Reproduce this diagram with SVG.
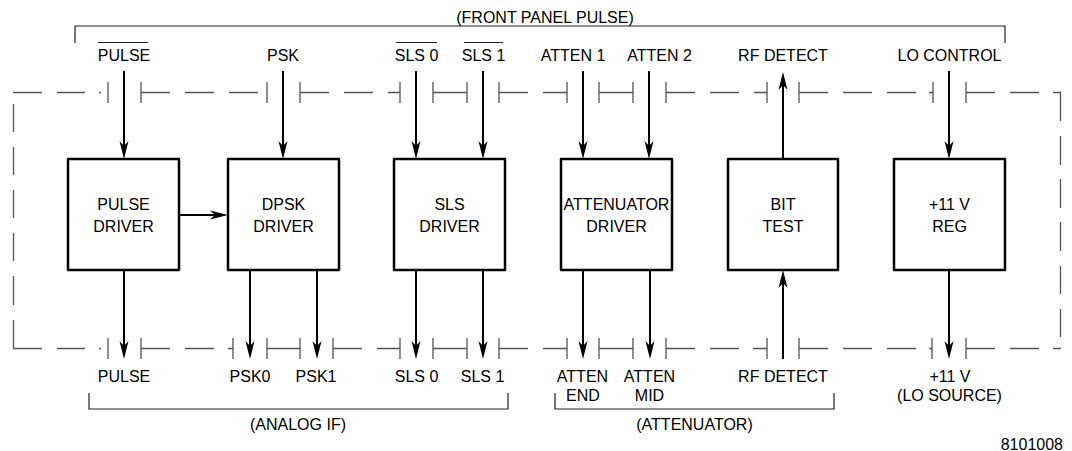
<svg xmlns="http://www.w3.org/2000/svg" width="1072" height="451" viewBox="0 0 1072 451">
<style>
text{font-family:"Liberation Sans",Arial,sans-serif;font-size:16px;fill:#000;text-anchor:middle}
.box{fill:#fff;stroke:#000;stroke-width:2.5;stroke-linejoin:round}
.sig{stroke:#000;stroke-width:2;fill:none}
.fr{stroke:#555;stroke-width:1.3;fill:none}
.tk{stroke:#555;stroke-width:1.3;fill:none}
.br{stroke:#222;stroke-width:1.2;fill:none}
</style>
<defs>
<marker id="ah" viewBox="-20 -6 22 12" refX="-6" refY="0" markerWidth="22" markerHeight="12" markerUnits="userSpaceOnUse" orient="auto">
<path d="M0,0 L-18,-4.5 L-13,0 L-18,4.5 Z" fill="#000"/>
</marker>
</defs>

<g id="frame">
<path class="fr" d="M13,92.5H42 M57,92.5H85 M99,92.5H101 M141,92.5H170 M185,92.5H214 M229,92.5H258 M300,92.5H329 M344,92.5H373 M388,92.5H400 M433,92.5H467 M499,92.5H528 M543,92.5H567 M599,92.5H633 M666,92.5H695 M710,92.5H739 M754,92.5H767 M799,92.5H828 M843,92.5H872 M887,92.5H916 M929,92.5H933 M966,92.5H995 M1010,92.5H1039 M1053,92.5H1060.5V121"/>
<path class="fr" d="M1060.5,136V165 M1060.5,179V208 M1060.5,222V251 M1060.5,266V294 M1060.5,309V337"/>
<path class="fr" d="M13.5,104V132 M13.5,147V175 M13.5,190V218 M13.5,233V261 M13.5,276V305 M13.5,320V348.5H42"/>
<path class="fr" d="M57,348.5H85 M99,348.5H101 M141,348.5H170 M185,348.5H214 M228,348.5H233 M267,348.5H300 M333,348.5H362 M377,348.5H400 M433,348.5H467 M499,348.5H528 M543,348.5H567 M599,348.5H633 M666,348.5H695 M710,348.5H739 M753,348.5H767 M799,348.5H828 M843,348.5H872 M887,348.5H916 M929,348.5H932 M966,348.5H995 M1010,348.5H1039 M1053,348.5H1061"/>
<path class="tk" d="M108,82V103 M141,82V103 M267,82V103 M300,82V103 M400,82V103 M433,82V103 M467,82V103 M499,82V103 M567,82V103 M599,82V103 M633,82V103 M666,82V103 M767,82V103 M799,82V103 M933,82V103 M966,82V103"/>
<path class="tk" d="M108,338V359 M141,338V359 M233,338V359 M267,338V359 M300,338V359 M333,338V359 M400,338V359 M433,338V359 M467,338V359 M499,338V359 M567,338V359 M599,338V359 M633,338V359 M666,338V359 M767,338V359 M799,338V359 M932,338V359 M966,338V359"/>
</g>

<g id="brackets">
<path class="br" d="M75,43V26H1005V43"/>
<path class="br" d="M89,393V409H508V393"/>
<path class="br" d="M555,393V409H834V393"/>
</g>

<g id="connectors">
<line class="sig" x1="124" y1="71" x2="124" y2="153" marker-end="url(#ah)"/>
<line class="sig" x1="283" y1="71" x2="283" y2="153" marker-end="url(#ah)"/>
<line class="sig" x1="416" y1="71" x2="416" y2="153" marker-end="url(#ah)"/>
<line class="sig" x1="483" y1="71" x2="483" y2="153" marker-end="url(#ah)"/>
<line class="sig" x1="583" y1="71" x2="583" y2="153" marker-end="url(#ah)"/>
<line class="sig" x1="649" y1="71" x2="649" y2="153" marker-end="url(#ah)"/>
<line class="sig" x1="783" y1="159" x2="783" y2="78" marker-end="url(#ah)"/>
<line class="sig" x1="949" y1="71" x2="949" y2="153" marker-end="url(#ah)"/>
<line class="sig" x1="179" y1="215" x2="222" y2="215" marker-end="url(#ah)"/>
<line class="sig" x1="124" y1="270" x2="124" y2="353" marker-end="url(#ah)"/>
<line class="sig" x1="250" y1="270" x2="250" y2="353" marker-end="url(#ah)"/>
<line class="sig" x1="317" y1="270" x2="317" y2="353" marker-end="url(#ah)"/>
<line class="sig" x1="416" y1="270" x2="416" y2="353" marker-end="url(#ah)"/>
<line class="sig" x1="483" y1="270" x2="483" y2="353" marker-end="url(#ah)"/>
<line class="sig" x1="583" y1="270" x2="583" y2="353" marker-end="url(#ah)"/>
<line class="sig" x1="650" y1="270" x2="650" y2="353" marker-end="url(#ah)"/>
<line class="sig" x1="783" y1="359" x2="783" y2="276" marker-end="url(#ah)"/>
<line class="sig" x1="949" y1="270" x2="949" y2="353" marker-end="url(#ah)"/>
</g>

<g id="pulse-driver"><rect class="box" x="68" y="159" width="111" height="111"/><text x="123.5" y="210">PULSE</text><text x="123.5" y="232">DRIVER</text></g>
<g id="dpsk-driver"><rect class="box" x="228" y="159" width="111" height="111"/><text x="283.5" y="210">DPSK</text><text x="283.5" y="232">DRIVER</text></g>
<g id="sls-driver"><rect class="box" x="394" y="159" width="111" height="111"/><text x="449.5" y="210">SLS</text><text x="449.5" y="232">DRIVER</text></g>
<g id="attenuator-driver"><rect class="box" x="561" y="159" width="111" height="111"/><text x="616.5" y="210">ATTENUATOR</text><text x="616.5" y="232">DRIVER</text></g>
<g id="bit-test"><rect class="box" x="728" y="159" width="110" height="111"/><text x="783" y="210">BIT</text><text x="783" y="232">TEST</text></g>
<g id="reg-11v"><rect class="box" x="894" y="159" width="111" height="111"/><text x="949.5" y="210">+11 V</text><text x="949.5" y="232">REG</text></g>

<g id="labels">
<text x="545" y="22.5">(FRONT PANEL PULSE)</text>
<text x="124" y="61">PULSE</text>
<text x="283" y="61">PSK</text>
<text x="416.5" y="61">SLS 0</text>
<text x="483.5" y="61">SLS 1</text>
<text x="573" y="61">ATTEN 1</text>
<text x="659.5" y="61">ATTEN 2</text>
<text x="783" y="61">RF DETECT</text>
<text x="949.5" y="61">LO CONTROL</text>
<path class="br" d="M98,42.5H148 M396,42.5H437 M464,42.5H503"/>
<text x="124" y="382">PULSE</text>
<text x="250" y="382">PSK0</text>
<text x="316" y="382">PSK1</text>
<text x="416.5" y="382">SLS 0</text>
<text x="482.5" y="382">SLS 1</text>
<text x="582.5" y="382">ATTEN</text>
<text x="583" y="401">END</text>
<text x="649.5" y="382">ATTEN</text>
<text x="649.5" y="401">MID</text>
<text x="783" y="382">RF DETECT</text>
<text x="950" y="382">+11 V</text>
<text x="949.5" y="401">(LO SOURCE)</text>
<text x="298" y="430">(ANALOG IF)</text>
<text x="694.5" y="430">(ATTENUATOR)</text>
<text x="1063" y="450" style="text-anchor:end">8101008</text>
</g>
</svg>
